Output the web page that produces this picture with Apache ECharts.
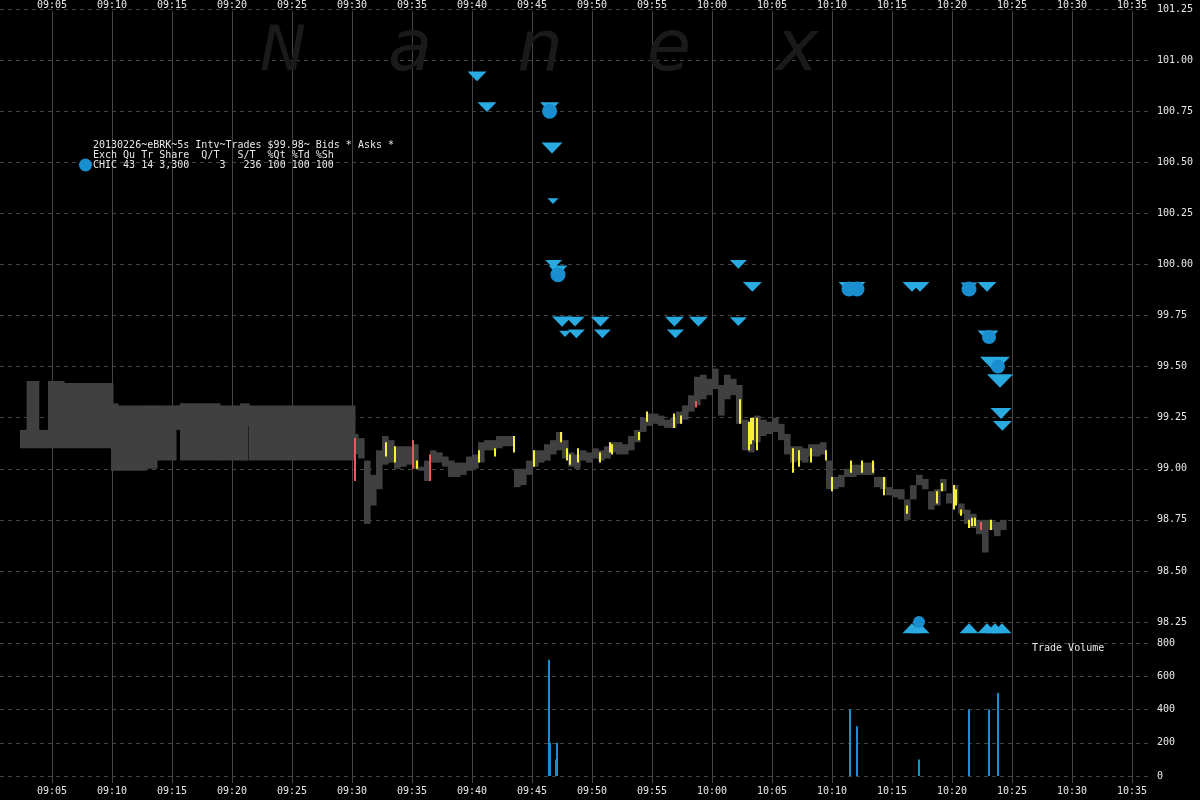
<!DOCTYPE html>
<html><head><meta charset="utf-8">
<script src="https://cdn.jsdelivr.net/npm/echarts@6/dist/echarts.min.js"></script>
<style>html,body{margin:0;padding:0;background:#000;}#c{width:1200px;height:800px;}</style>
</head><body><div id="c"></div>
<script>
// ---------- data ----------
const timeTickFirst = '09:05:00', timeTickLast = '10:35:00'; // labelled 5-minute ticks
const viewStart = '09:00:40', viewEnd = '10:36:30';           // visible time span of the panes
const priceMin = 98.25, priceMax = 101.25, priceStep = 0.25;
const volMin = 0, volMax = 800, volStep = 200;

// pre-market quote blocks: [start, end, low, high]
const preBlocks = [
  ['09:02:20','09:02:53', 99.10, 99.19],
  ['09:02:53','09:03:54', 99.10, 99.43],
  ['09:03:54','09:04:40', 99.10, 99.19],
  ['09:04:40','09:06:00', 99.10, 99.43],
  ['09:06:00','09:09:55', 99.10, 99.42],
  ['09:09:55','09:10:05', 98.99, 99.42],
  ['09:10:05','09:10:30', 98.99, 99.32],
  ['09:10:30','09:12:50', 98.99, 99.31],
  ['09:12:50','09:13:45', 99.00, 99.31],
  ['09:13:45','09:15:20', 99.04, 99.31],
  ['09:15:20','09:15:40', 99.19, 99.31],
  ['09:15:40','09:19:00', 99.04, 99.32],
  ['09:19:00','09:20:40', 99.04, 99.31],
  ['09:20:40','09:21:20', 99.04, 99.32],
  ['09:21:20','09:21:25', 99.21, 99.32],
  ['09:21:25','09:30:15', 99.04, 99.31]
];

// regular-session price band, one entry per 30 s from 09:30:00
const bandStart = '09:30:00';
const bandStepSec = 30;
const bandLow = [99.07,99.05,98.73,98.82,98.90,99.02,99.03,99.00,99.01,99.02,
  99.00,98.99,98.94,99.03,99.03,99.01,98.96,98.96,98.97,98.99,
  99.00,99.03,99.09,99.09,99.10,99.11,99.11,98.91,98.92,98.97,
  99.01,99.03,99.04,99.07,99.09,99.05,99.01,99.00,99.04,99.03,
  99.05,99.04,99.05,99.08,99.07,99.07,99.09,99.13,99.18,99.21,
  99.22,99.21,99.20,99.20,99.22,99.24,99.28,99.31,99.34,99.36,
  99.39,99.26,99.34,99.36,99.22,99.09,99.08,99.13,99.16,99.17,
  99.18,99.14,99.07,99.03,99.04,99.03,99.06,99.06,99.07,98.90,
  98.90,98.91,98.96,98.96,98.97,98.97,98.97,98.91,98.90,98.87,
  98.86,98.85,98.75,98.85,98.92,98.90,98.80,98.82,98.89,98.83,
  98.83,98.78,98.73,98.71,98.68,98.59,98.70,98.67,98.70];
const bandHigh = [99.17,99.15,99.04,98.97,99.09,99.16,99.14,99.11,99.11,99.11,
  99.12,99.01,99.04,99.09,99.08,99.06,99.04,99.03,99.03,99.06,
  99.07,99.13,99.14,99.14,99.16,99.16,99.16,99.00,99.00,99.04,
  99.09,99.09,99.12,99.14,99.18,99.14,99.08,99.07,99.09,99.08,
  99.10,99.09,99.11,99.13,99.13,99.12,99.16,99.19,99.25,99.27,
  99.27,99.26,99.24,99.25,99.28,99.31,99.36,99.45,99.46,99.44,
  99.49,99.41,99.46,99.44,99.41,99.24,99.19,99.26,99.24,99.23,
  99.25,99.22,99.17,99.11,99.11,99.10,99.12,99.12,99.13,99.04,
  98.96,98.97,99.00,99.02,99.02,99.03,99.03,98.96,98.96,98.91,
  98.90,98.90,98.85,98.92,98.97,98.95,98.89,98.90,98.95,98.88,
  98.92,98.83,98.80,98.78,98.75,98.75,98.75,98.74,98.75];

// highlighted trade ticks: [time, low, high]
const yellowTicks = [
  ['09:32:50',99.06,99.13],['09:33:35',99.03,99.11],['09:35:25',99.00,99.04],
  ['09:40:35',99.03,99.09],['09:41:55',99.06,99.10],['09:43:30',99.08,99.16],
  ['09:45:10',99.01,99.09],['09:47:25',99.13,99.18],['09:47:55',99.04,99.10],
  ['09:48:10',99.02,99.07],['09:48:50',99.03,99.10],['09:50:40',99.03,99.08],
  ['09:51:30',99.08,99.13],['09:51:40',99.07,99.12],['09:53:55',99.14,99.18],
  ['09:54:35',99.23,99.28],['09:56:50',99.20,99.27],['09:57:25',99.22,99.26],
  ['10:02:20',99.22,99.34],['10:03:05',99.09,99.23],['10:03:15',99.12,99.25],
  ['10:03:25',99.14,99.25],['10:03:45',99.09,99.25],['10:06:45',98.98,99.10],
  ['10:07:15',99.01,99.09],['10:08:15',99.03,99.10],['10:09:30',99.04,99.09],
  ['10:10:00',98.89,98.96],['10:11:35',98.98,99.04],['10:12:30',98.98,99.04],
  ['10:13:25',98.98,99.04],['10:14:20',98.87,98.96],['10:16:15',98.78,98.82],
  ['10:18:45',98.83,98.89],['10:19:10',98.89,98.93],['10:20:10',98.80,98.92],
  ['10:20:20',98.82,98.90],['10:20:45',98.77,98.80],['10:21:25',98.71,98.75],
  ['10:21:40',98.72,98.76],['10:21:55',98.72,98.76],['10:23:15',98.70,98.75]
];
const redTicks = [
  ['09:30:15',98.94,99.15],['09:35:05',99.00,99.14],['09:36:30',98.94,99.07],
  ['09:58:40',99.30,99.33],['10:22:25',98.70,98.74]
];

// asks (down triangles)
const askTimes = ['09:40:25','09:41:15','09:46:28','09:46:40','09:46:45','09:46:48','09:47:10',
  '09:47:30','09:48:35','09:47:45','09:48:42','09:50:42','09:50:52','09:56:52','09:56:57',
  '09:58:52','10:02:12','10:02:12','10:03:22','10:11:20','10:12:00','10:16:40','10:17:20',
  '10:21:25','10:22:55','10:23:00','10:23:35','10:24:00','10:24:05','10:24:12'];
const askPrices = [100.92,100.77,100.77,100.57,100.31,100.00,99.97,
  99.72,99.72,99.66,99.66,99.72,99.66,99.72,99.66,
  99.72,100.00,99.72,99.89,99.89,99.89,99.89,99.89,
  99.89,99.89,99.65,99.51,99.43,99.27,99.21];
const askSizes = [19,19,19,21,11,17,19, 20,19,12,17,19,17,19,17, 19,17,17,19,19,19,19,19, 17,19,21,30,26,21,19];

// bids (up triangles)
const bidTimes = ['10:16:40','10:17:20','10:21:25','10:22:55','10:23:35','10:24:10'];
const bidPrices = [98.22,98.22,98.22,98.22,98.22,98.22];

// trades (circles)
const tradeTimes = ['09:46:28','09:47:10','10:11:25','10:12:05','10:17:15','10:21:25','10:23:05','10:23:50'];
const tradePrices = [100.75,99.95,99.88,99.88,98.25,99.88,99.645,99.50];
const tradeSizes = [15,15,15,15,12,15,14,14];

// trade volume
const volTimes = ['09:46:25','09:46:30','09:47:00','09:47:05','10:11:30','10:12:05','10:17:15','10:21:25','10:23:05','10:23:50'];
const volValues = [700,200,100,200,400,300,100,400,400,500];

// ---------- helpers ----------
function toMin(s){ const p=s.split(':').map(Number); return (p[0]-9)*60+p[1]+(p[2]||0)/60; }
function fmtTime(m){ const h=9+Math.floor(m/60), mm=Math.round(m%60); return (h<10?'0':'')+h+':'+(mm<10?'0':'')+mm; }

const MONO = '"DejaVu Sans Mono", monospace';
const TXT = '#e8e8e8';
const GRIDC = '#454545';
const ASKC = '#29abe2', TRADEC = '#1a8fd0';

const bandStartMin = toMin(bandStart), bandStepMin = bandStepSec/60;
const bandData = bandLow.map((lo,i)=>[bandStartMin + i*bandStepMin, lo, bandHigh[i]]);
const preData = preBlocks.map(b=>[toMin(b[0]), toMin(b[1]), b[2], b[3]]);
const yellowData = yellowTicks.map(t=>[toMin(t[0]), t[1], t[2]]);
const redData = redTicks.map(t=>[toMin(t[0]), t[1], t[2]]);
const askData = askTimes.map((t,i)=>[toMin(t), askPrices[i], askSizes[i]]);
const bidData = bidTimes.map((t,i)=>[toMin(t), bidPrices[i]]);
const tradeData = tradeTimes.map((t,i)=>[toMin(t), tradePrices[i], tradeSizes[i]]);
const volData = volTimes.map((t,i)=>[toMin(t), volValues[i]]);

function rectItem(fill, widthMin){
  return function(params, api){
    const t=api.value(0), lo=api.value(1), hi=api.value(2);
    const a=api.coord([t,hi]), b=api.coord([t+widthMin,lo]);
    return {type:'rect', shape:{x:a[0], y:a[1], width:Math.max(b[0]-a[0]+0.6,1), height:Math.max(b[1]-a[1],1.5)}, style:{fill}};
  };
}
function tickItem(fill){
  return function(params, api){
    const t=api.value(0), lo=api.value(1), hi=api.value(2);
    const a=api.coord([t,hi]), b=api.coord([t,lo]);
    return {type:'rect', shape:{x:a[0]-1, y:a[1], width:2, height:Math.max(b[1]-a[1],2)}, style:{fill}};
  };
}

const chart = echarts.init(document.getElementById('c'), null, {renderer:'canvas'});
const wm = (t,x,y,size)=>({type:'text', x, y, z:1, style:{text:t, fill:'#1a1a1a', font:'italic '+size+'px "DejaVu Sans"', align:'center', verticalAlign:'middle', textAlign:'center', textVerticalAlign:'middle'}});
const hdr = (t,x,y)=>({type:'text', x, y, z:100, style:{text:t, fill:TXT, font:'10px '+MONO, verticalAlign:'middle', textVerticalAlign:'middle'}});
chart.setOption({
  backgroundColor:'#000',
  animation:false,
  grid:[
    {left:52, right:68, top:11, bottom:17},
    {left:0, right:50, top:9, bottom:178},
    {left:0, right:50, top:643, bottom:24}
  ],
  xAxis:[
    {type:'value', gridIndex:0, position:'top', min:toMin(timeTickFirst), max:toMin(timeTickLast), interval:5,
      axisLine:{show:false}, axisTick:{show:false},
      axisLabel:{color:TXT, fontFamily:MONO, fontSize:10, margin:1, formatter:fmtTime},
      splitLine:{show:true, lineStyle:{color:GRIDC, width:1, type:'solid'}}},
    {type:'value', gridIndex:0, position:'bottom', min:toMin(timeTickFirst), max:toMin(timeTickLast), interval:5,
      axisLine:{show:false}, axisTick:{show:false},
      axisLabel:{color:TXT, fontFamily:MONO, fontSize:10, margin:3, formatter:fmtTime},
      splitLine:{show:false}},
    {type:'value', gridIndex:1, min:toMin(viewStart), max:toMin(viewEnd), show:false},
    {type:'value', gridIndex:2, min:toMin(viewStart), max:toMin(viewEnd), show:false}
  ],
  yAxis:[
    {type:'value', gridIndex:0, show:false, min:0, max:1},
    {type:'value', gridIndex:1, position:'right', min:priceMin, max:priceMax, interval:priceStep,
      axisLine:{show:false}, axisTick:{show:false},
      axisLabel:{color:TXT, fontFamily:MONO, fontSize:10, margin:7, formatter:v=>v.toFixed(2)},
      splitLine:{show:true, lineStyle:{color:GRIDC, type:[4,4], width:1}}},
    {type:'value', gridIndex:2, position:'right', min:volMin, max:volMax, interval:volStep,
      axisLine:{show:false}, axisTick:{show:false},
      axisLabel:{color:TXT, fontFamily:MONO, fontSize:10, margin:7},
      splitLine:{show:true, lineStyle:{color:GRIDC, type:[4,4], width:1}}}
  ],
  series:[
    {type:'custom', xAxisIndex:2, yAxisIndex:1, data:preData, z:2, clip:false,
      encode:{x:[0,1], y:[2,3]},
      renderItem:function(params, api){
        const a=api.coord([api.value(0), api.value(3)]), b=api.coord([api.value(1), api.value(2)]);
        return {type:'rect', shape:{x:a[0], y:a[1], width:b[0]-a[0]+0.5, height:b[1]-a[1]}, style:{fill:'#404040'}};
      }},
    {type:'custom', xAxisIndex:2, yAxisIndex:1, data:bandData, z:2, encode:{x:0, y:[1,2]},
      renderItem:rectItem('#404040', bandStepMin)},
    {type:'custom', xAxisIndex:2, yAxisIndex:1, data:yellowData, z:3, encode:{x:0, y:[1,2]},
      renderItem:tickItem('#f5f03a')},
    {type:'custom', xAxisIndex:2, yAxisIndex:1, data:redData, z:3, encode:{x:0, y:[1,2]},
      renderItem:tickItem('#e65a5a')},
    {type:'scatter', xAxisIndex:2, yAxisIndex:1, data:askData, z:4, clip:false,
      symbol:'triangle', symbolRotate:180, symbolSize:v=>[v[2], v[2]*0.52],
      itemStyle:{color:ASKC, opacity:1}},
    {type:'scatter', xAxisIndex:2, yAxisIndex:1, data:bidData, z:4, clip:false,
      symbol:'triangle', symbolSize:[19,10], itemStyle:{color:ASKC, opacity:1}},
    {type:'scatter', xAxisIndex:2, yAxisIndex:1, data:tradeData, z:5, clip:false,
      symbol:'circle', symbolSize:v=>v[2], itemStyle:{color:TRADEC, opacity:1}},
    {type:'bar', xAxisIndex:3, yAxisIndex:2, data:volData, barWidth:2, z:3,
      itemStyle:{color:TRADEC}}
  ],
  graphic:[
    wm('N',283,54,62), wm('a',410,51,72), wm('n',540,51,72), wm('e',669,51,72), wm('x',797,51,72),
    hdr('20130226~eBRK~5s Intv~Trades $99.98~ Bids * Asks *',93,145),
    hdr('Exch Qu Tr Share  Q/T   S/T  %Qt %Td %Sh',93,155),
    hdr('CHIC 43 14 3,300     3   236 100 100 100',93,165),
    {type:'circle', z:100, shape:{cx:85.5, cy:165, r:6.5}, style:{fill:TRADEC}},
    hdr('Trade Volume',1032,648)
  ]
});
</script>
</body></html>
